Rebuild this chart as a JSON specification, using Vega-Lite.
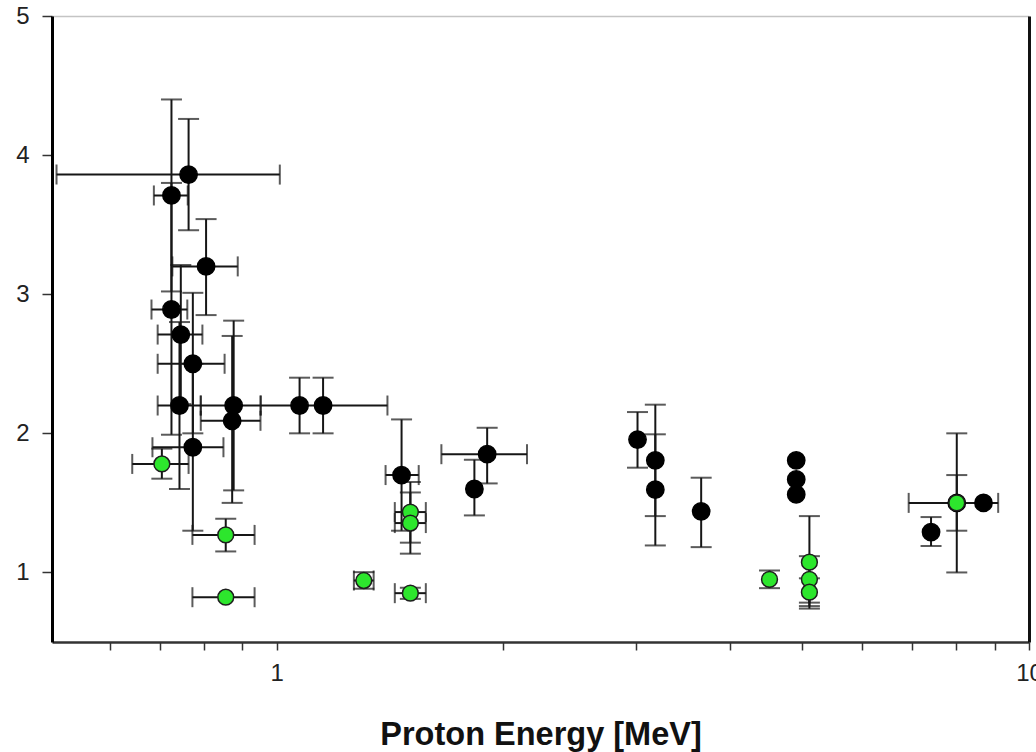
{
  "$schema": "https://vega.github.io/schema/vega-lite/v6.json",
  "width": 977,
  "height": 626,
  "autosize": {"type": "none"},
  "padding": {"left": 52, "top": 16, "right": 7, "bottom": 110},
  "background": "white",
  "config": {
    "view": {"stroke": null},
    "font": "Liberation Sans"
  },
  "data": {
    "values": [
      {"E": 0.725, "v": 3.71, "grp": "black", "ylo": 3.02, "yhi": 4.40, "xlo": 0.687, "xhi": 0.762},
      {"E": 0.725, "v": 2.89, "grp": "black", "ylo": 1.99, "yhi": 3.80, "xlo": 0.682, "xhi": 0.761},
      {"E": 0.764, "v": 3.86, "grp": "black", "ylo": 3.46, "yhi": 4.26, "xlo": 0.51, "xhi": 1.01},
      {"E": 0.806, "v": 3.20, "grp": "black", "ylo": 2.85, "yhi": 3.54, "xlo": 0.727, "xhi": 0.888},
      {"E": 0.746, "v": 2.71, "grp": "black", "ylo": 2.21, "yhi": 3.21, "xlo": 0.695, "xhi": 0.797},
      {"E": 0.774, "v": 2.50, "grp": "black", "ylo": 2.00, "yhi": 3.01, "xlo": 0.695, "xhi": 0.853},
      {"E": 0.774, "v": 1.90, "grp": "black", "ylo": 1.30, "yhi": 2.50, "xlo": 0.684, "xhi": 0.850},
      {"E": 0.743, "v": 2.20, "grp": "black", "ylo": 1.60, "yhi": 2.80, "xlo": 0.695, "xhi": 0.793},
      {"E": 0.877, "v": 2.20, "grp": "black", "ylo": 1.59, "yhi": 2.81, "xlo": 0.793, "xhi": 0.952},
      {"E": 0.873, "v": 2.09, "grp": "black", "ylo": 1.50, "yhi": 2.70, "xlo": 0.793, "xhi": 0.952},
      {"E": 1.073, "v": 2.20, "grp": "black", "ylo": 2.00, "yhi": 2.40, "xlo": null, "xhi": null},
      {"E": 1.153, "v": 2.20, "grp": "black", "ylo": 2.00, "yhi": 2.40, "xlo": 0.953, "xhi": 1.404},
      {"E": 1.466, "v": 1.70, "grp": "black", "ylo": 1.30, "yhi": 2.10, "xlo": 1.396, "xhi": 1.545},
      {"E": 1.905, "v": 1.85, "grp": "black", "ylo": 1.64, "yhi": 2.04, "xlo": 1.656, "xhi": 2.152},
      {"E": 1.832, "v": 1.60, "grp": "black", "ylo": 1.41, "yhi": 1.81, "xlo": null, "xhi": null},
      {"E": 3.018, "v": 1.955, "grp": "black", "ylo": 1.753, "yhi": 2.153, "xlo": null, "xhi": null},
      {"E": 3.187, "v": 1.806, "grp": "black", "ylo": 1.405, "yhi": 2.206, "xlo": null, "xhi": null},
      {"E": 3.187, "v": 1.595, "grp": "black", "ylo": 1.194, "yhi": 1.993, "xlo": null, "xhi": null},
      {"E": 3.667, "v": 1.439, "grp": "black", "ylo": 1.182, "yhi": 1.681, "xlo": null, "xhi": null},
      {"E": 4.905, "v": 1.806, "grp": "black", "ylo": null, "yhi": null, "xlo": null, "xhi": null},
      {"E": 4.905, "v": 1.669, "grp": "black", "ylo": null, "yhi": null, "xlo": null, "xhi": null},
      {"E": 4.905, "v": 1.561, "grp": "black", "ylo": null, "yhi": null, "xlo": null, "xhi": null},
      {"E": 8.017, "v": 1.50, "grp": "black", "ylo": 1.00, "yhi": 2.00, "xlo": null, "xhi": null},
      {"E": 8.70, "v": 1.50, "grp": "black", "ylo": null, "yhi": null, "xlo": null, "xhi": null},
      {"E": 7.41, "v": 1.29, "grp": "black", "ylo": 1.19, "yhi": 1.398, "xlo": null, "xhi": null},
      {"E": 0.704, "v": 1.78, "grp": "green", "ylo": 1.674, "yhi": 1.89, "xlo": 0.643, "xhi": 0.764},
      {"E": 0.856, "v": 1.27, "grp": "green", "ylo": 1.151, "yhi": 1.386, "xlo": 0.773, "xhi": 0.935},
      {"E": 0.856, "v": 0.822, "grp": "green", "ylo": null, "yhi": null, "xlo": 0.773, "xhi": 0.935},
      {"E": 1.506, "v": 1.434, "grp": "green", "ylo": 1.214, "yhi": 1.65, "xlo": 1.436, "xhi": 1.579},
      {"E": 1.506, "v": 1.355, "grp": "green", "ylo": 1.135, "yhi": 1.575, "xlo": 1.436, "xhi": 1.579},
      {"E": 1.306, "v": 0.942, "grp": "green", "ylo": 0.883, "yhi": 1.002, "xlo": 1.267, "xhi": 1.346},
      {"E": 1.506, "v": 0.851, "grp": "green", "ylo": 0.81, "yhi": 0.89, "xlo": 1.436, "xhi": 1.579},
      {"E": 4.52, "v": 0.950, "grp": "green", "ylo": 0.887, "yhi": 1.014, "xlo": null, "xhi": null},
      {"E": 5.107, "v": 1.074, "grp": "green", "ylo": 0.74, "yhi": 1.405, "xlo": null, "xhi": null},
      {"E": 5.107, "v": 0.950, "grp": "green", "ylo": 0.783, "yhi": 1.117, "xlo": null, "xhi": null},
      {"E": 5.107, "v": 0.858, "grp": "green", "ylo": 0.758, "yhi": 0.958, "xlo": null, "xhi": null},
      {"E": 8.017, "v": 1.50, "grp": "green", "ylo": 1.30, "yhi": 1.70, "xlo": 6.92, "xhi": 9.10}
    ]
  },
  "resolve": {"axis": {"x": "independent", "y": "independent"}},
  "layer": [
    {
      "transform": [{"filter": "isValid(datum.ylo)"}],
      "mark": {"type": "rule", "color": "#161616", "strokeWidth": 2},
      "encoding": {
        "x": {
          "field": "E", "type": "quantitative",
          "scale": {"type": "log", "domain": [0.503, 10], "nice": false},
          "axis": {
            "orient": "bottom",
            "values": [0.6, 0.7, 0.8, 0.9, 1, 2, 3, 4, 5, 6, 7, 8, 9, 10],
            "format": "~g",
            "labelExpr": "datum.value == 1 || datum.value == 10 ? datum.label : ''",
            "labelOverlap": false,
            "labelFlush": false,
            "grid": false,
            "domainColor": "#333", "domainWidth": 2.5,
            "tickColor": "#333", "tickWidth": 1.5, "tickSize": 8,
            "labelFontSize": 24, "labelColor": "#222", "labelPadding": 11,
            "title": "Proton Energy [MeV]",
            "titleFontSize": 32.5, "titleFontWeight": "bold", "titleColor": "#111",
            "titlePadding": 33
          }
        },
        "y": {
          "field": "ylo", "type": "quantitative",
          "scale": {"domain": [0.5, 5], "nice": false, "zero": false},
          "axis": {
            "orient": "left",
            "values": [1, 2, 3, 4, 5],
            "grid": false,
            "domainColor": "#000", "domainWidth": 3,
            "tickColor": "#333", "tickWidth": 1.5, "tickSize": 10,
            "labelFontSize": 24, "labelColor": "#222", "labelPadding": 13,
            "title": null
          }
        },
        "y2": {"field": "yhi"}
      }
    },
    {
      "transform": [{"filter": "isValid(datum.xlo)"}],
      "mark": {"type": "rule", "color": "#161616", "strokeWidth": 2},
      "encoding": {
        "x": {"field": "xlo", "type": "quantitative", "axis": null},
        "x2": {"field": "xhi"},
        "y": {"field": "v", "type": "quantitative", "axis": null}
      }
    },
    {
      "transform": [{"filter": "isValid(datum.ylo)"}],
      "mark": {"type": "tick", "orient": "horizontal", "color": "#161616", "size": 21, "thickness": 2},
      "encoding": {
        "x": {"field": "E", "type": "quantitative", "axis": null},
        "y": {"field": "ylo", "type": "quantitative", "axis": null}
      }
    },
    {
      "transform": [{"filter": "isValid(datum.yhi)"}],
      "mark": {"type": "tick", "orient": "horizontal", "color": "#161616", "size": 21, "thickness": 2},
      "encoding": {
        "x": {"field": "E", "type": "quantitative", "axis": null},
        "y": {"field": "yhi", "type": "quantitative", "axis": null}
      }
    },
    {
      "transform": [{"filter": "isValid(datum.xlo)"}],
      "mark": {"type": "tick", "orient": "vertical", "color": "#161616", "size": 20, "thickness": 2},
      "encoding": {
        "x": {"field": "xlo", "type": "quantitative", "axis": null},
        "y": {"field": "v", "type": "quantitative", "axis": null}
      }
    },
    {
      "transform": [{"filter": "isValid(datum.xhi)"}],
      "mark": {"type": "tick", "orient": "vertical", "color": "#161616", "size": 20, "thickness": 2},
      "encoding": {
        "x": {"field": "xhi", "type": "quantitative", "axis": null},
        "y": {"field": "v", "type": "quantitative", "axis": null}
      }
    },
    {
      "mark": {"type": "circle", "opacity": 1, "strokeWidth": 1.5},
      "encoding": {
        "x": {
          "field": "E", "type": "quantitative",
          "axis": {"orient": "top", "values": [], "ticks": false, "labels": false, "grid": false, "domainColor": "#c4c4c4", "domainWidth": 1.5, "title": null}
        },
        "y": {
          "field": "v", "type": "quantitative",
          "axis": {"orient": "right", "values": [], "ticks": false, "labels": false, "grid": false, "domainColor": "#111", "domainWidth": 3, "title": null}
        },
        "fill": {"field": "grp", "type": "nominal", "scale": {"domain": ["black", "green"], "range": ["#000000", "#2de62d"]}, "legend": null},
        "stroke": {"field": "grp", "type": "nominal", "scale": {"domain": ["black", "green"], "range": ["#000000", "#1e1e1e"]}, "legend": null},
        "size": {"field": "grp", "type": "nominal", "scale": {"domain": ["black", "green"], "range": [300, 250]}, "legend": null}
      }
    }
  ]
}
